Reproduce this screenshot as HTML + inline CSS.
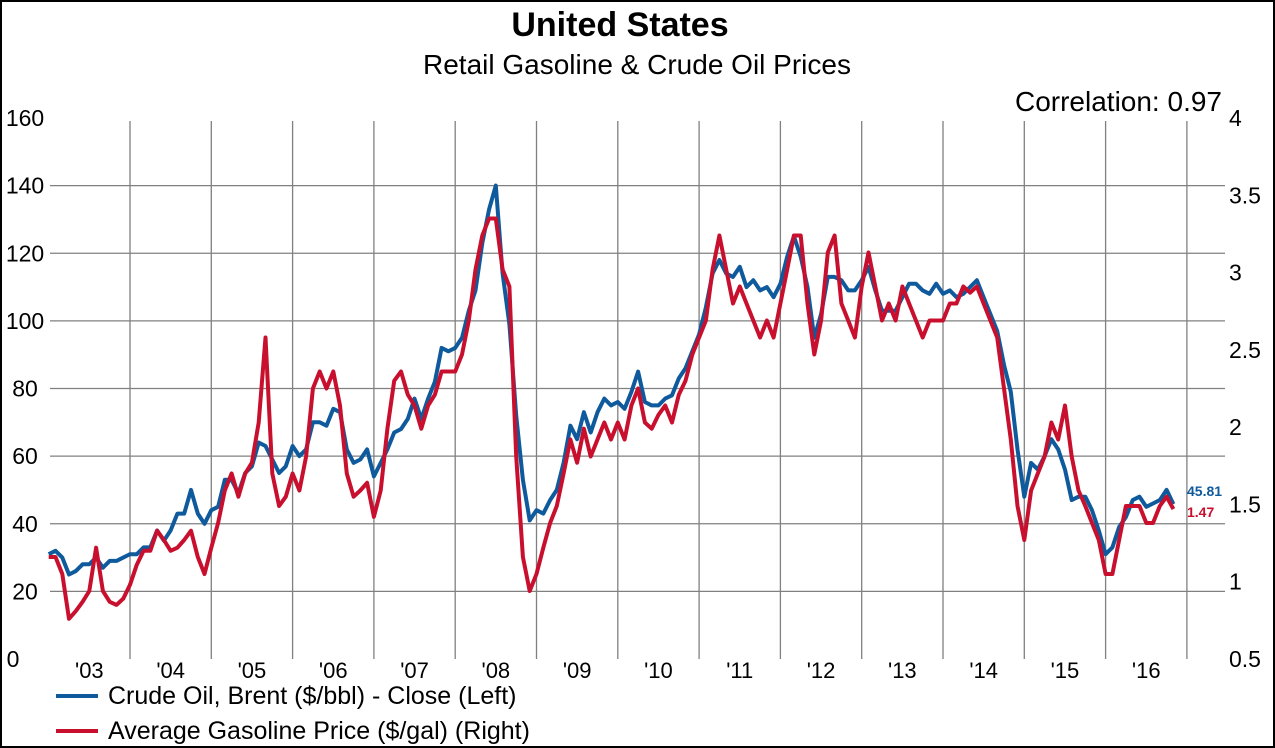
<!DOCTYPE html>
<html><head><meta charset="utf-8"><style>
html,body{margin:0;padding:0;background:#fff}
#wrap{position:relative;width:1275px;height:748px;box-sizing:border-box;border:2px solid #000;font-family:"Liberation Sans",Arial,sans-serif;overflow:hidden}
</style></head><body>
<div id="wrap">
<svg id="chart" width="1271" height="744" viewBox="2 2 1271 744" style="position:absolute;left:0;top:0"></svg>
</div>
<script>
const years = ["'03","'04","'05","'06","'07","'08","'09","'10","'11","'12","'13","'14","'15","'16"];
const leftTicks = [0,20,40,60,80,100,120,140,160];
const rightTicks = ["0.5","1","1.5","2","2.5","3","3.5","4"];
const brent = [
31,32,30,25,26,28,28,30,27,29,29,30,
31,31,33,33,38,35,38,43,43,50,43,40,
44,45,53,53,49,55,57,64,63,59,55,57,
63,60,62,70,70,69,74,73,62,58,59,62,
54,58,62,67,68,71,77,71,77,82,92,91,
92,95,103,109,123,133,140,114,99,72,53,41,
44,43,47,50,58,69,65,73,67,73,77,75,
76,74,79,85,76,75,75,77,78,83,86,91,
96,104,114,118,114,113,116,110,112,109,110,107,
111,119,125,119,110,95,102,113,113,112,109,109,
112,116,109,103,103,103,107,111,111,109,108,111,
108,109,107,108,110,112,107,102,97,87,79,62,
48,58,56,60,65,62,56,47,48,48,44,38,
31,33,39,42,47,48,45,46,47,50,45.81];
const gasoline = [
1.16,1.16,1.05,0.76,0.81,0.87,0.94,1.22,0.94,0.87,0.85,0.89,
0.98,1.11,1.20,1.20,1.33,1.27,1.20,1.22,1.27,1.33,1.16,1.05,
1.22,1.38,1.59,1.70,1.55,1.70,1.77,2.03,2.58,1.70,1.49,1.55,
1.70,1.59,1.81,2.25,2.36,2.25,2.36,2.14,1.70,1.55,1.59,1.64,
1.42,1.59,1.99,2.30,2.36,2.21,2.14,1.99,2.14,2.21,2.36,2.36,
2.36,2.47,2.69,3.02,3.24,3.35,3.35,3.02,2.91,1.81,1.16,0.94,
1.05,1.22,1.38,1.49,1.70,1.92,1.77,1.99,1.81,1.92,2.03,1.92,
2.03,1.92,2.14,2.25,2.03,1.99,2.08,2.14,2.03,2.21,2.30,2.47,
2.58,2.69,3.02,3.24,3.02,2.80,2.91,2.80,2.69,2.58,2.69,2.58,
2.80,3.02,3.24,3.24,2.80,2.47,2.69,3.13,3.24,2.80,2.69,2.58,
2.91,3.13,2.91,2.69,2.80,2.69,2.91,2.80,2.69,2.58,2.69,2.69,
2.69,2.80,2.80,2.91,2.87,2.91,2.80,2.69,2.58,2.25,1.92,1.49,
1.27,1.59,1.70,1.81,2.03,1.92,2.14,1.81,1.59,1.49,1.38,1.27,
1.05,1.05,1.27,1.49,1.49,1.49,1.38,1.38,1.49,1.55,1.47];

const NS="http://www.w3.org/2000/svg";
const svg=document.getElementById('chart');
const X0=48.7, PX_YEAR=81.3, PL=50, PR=1225, PT=121, PB=659;
const xYear = t => X0 + t*PX_YEAR;
const xMonth = i => xYear(i/12);
const yL = v => PB - v/160*(PB-118);
const yR = g => PB - (g-0.5)/3.5*(PB-118);
function mk(tag, attrs, parent){const e=document.createElementNS(NS,tag);for(const k in attrs)e.setAttribute(k,attrs[k]);(parent||svg).appendChild(e);return e;}

let t=mk('text',{x:620,y:36,'text-anchor':'middle','font-size':34,'font-weight':'bold',fill:'#000'});t.textContent='United States';


t=mk('text',{x:637,y:74,'text-anchor':'middle','font-size':28,fill:'#000'});t.textContent='Retail Gasoline & Crude Oil Prices';


t=mk('text',{x:1222,y:111,'text-anchor':'end','font-size':28,fill:'#000'});t.textContent='Correlation: 0.97';



leftTicks.forEach(v=>{
  const y=yL(v);
  if(v>0 && v<160){const l=mk('line',{x1:PL,x2:PR,y1:y,y2:y,stroke:'#808080','stroke-width':1.3});
  
  }
  const tx=mk('text',{x:v===0?13:25,y:y+8,'text-anchor':'middle','font-size':23,fill:'#000'});tx.textContent=v;
  
  
});
rightTicks.forEach(s=>{
  const tx=mk('text',{x:1229,y:yR(parseFloat(s))+8,'text-anchor':'start','font-size':23,fill:'#000'});tx.textContent=s;
  
  
});
years.forEach((yr,i)=>{
  const x=xYear(i+1);
  const l=mk('line',{x1:x,x2:x,y1:PT,y2:PB,stroke:'#808080','stroke-width':1.3});
  
  
  const tx=mk('text',{x:xYear(i+0.5),y:678,'text-anchor':'middle','font-size':22,fill:'#000'});tx.textContent=yr;
  
  
});
function path(arr, yf){return arr.map((v,i)=>(i?'L':'M')+xMonth(i).toFixed(1)+','+yf(v).toFixed(1)).join('');}
let p=mk('path',{d:path(brent,yL),fill:'none',stroke:'#0f5a9c','stroke-width':4,'stroke-linejoin':'round'});


p=mk('path',{d:path(gasoline,yR),fill:'none',stroke:'#c8102e','stroke-width':4,'stroke-linejoin':'round'});


t=mk('text',{x:1187,y:496,'font-size':14,'font-weight':'bold',fill:'#0f5a9c'});t.textContent=brent[brent.length-1].toFixed(2);


t=mk('text',{x:1187,y:517,'font-size':14,'font-weight':'bold',fill:'#c8102e'});t.textContent=gasoline[gasoline.length-1].toFixed(2);


[['#0f5a9c','Crude Oil, Brent ($/bbl) - Close  (Left)',704,'legend-crude'],['#c8102e','Average Gasoline Price ($/gal) (Right)',739,'legend-gasoline']].forEach(([c,s,y,n])=>{
  const g=mk('g',{});
  
  
  mk('line',{x1:56,x2:98,y1:y-8,y2:y-8,stroke:c,'stroke-width':4},g);
  const tx=mk('text',{x:108,y:y,'font-size':25,fill:'#000','xml:space':'preserve'},g);tx.textContent=s;
});
</script>
</body></html>
